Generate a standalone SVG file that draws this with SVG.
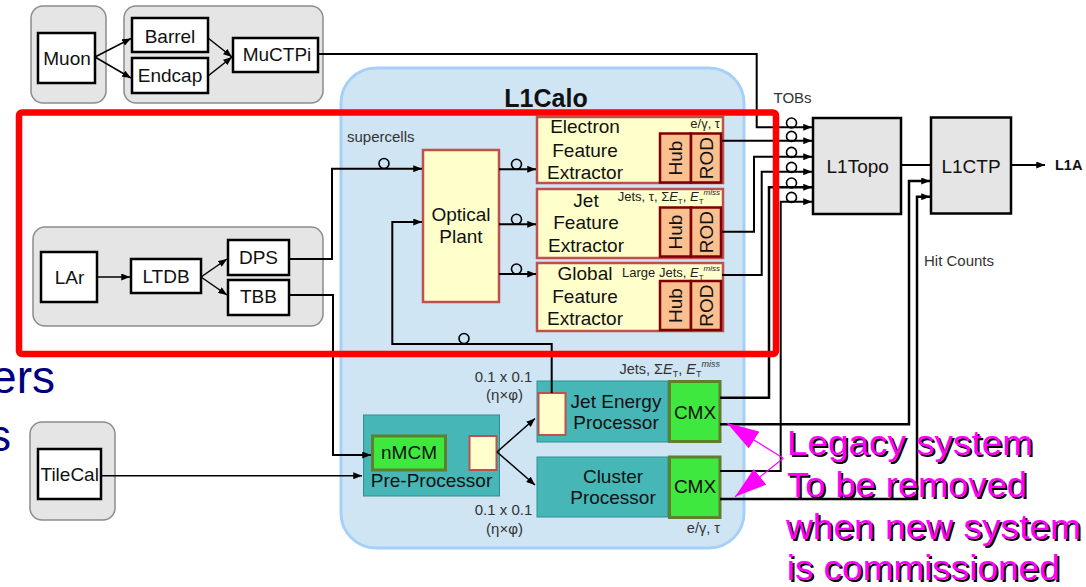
<svg xmlns="http://www.w3.org/2000/svg" width="1086" height="587" viewBox="0 0 1086 587">
<defs>
<marker id="ah" viewBox="0 0 10 8" refX="10" refY="4" markerWidth="9" markerHeight="7" markerUnits="userSpaceOnUse" orient="auto"><path d="M0,0 L10,4 L0,8 z" fill="#000"/></marker>
<marker id="mh" viewBox="0 0 32 20" refX="32" refY="10" markerWidth="32" markerHeight="20" markerUnits="userSpaceOnUse" orient="auto"><path d="M0,0 L32,10 L0,20 z" fill="#ff00ff"/></marker>
</defs>
<style>
text{font-family:"Liberation Sans",Arial,sans-serif;fill:#111}
.grp{fill:#e5e5e5;stroke:#8c8c8c;stroke-width:1.5}
.wb{fill:#fff;stroke:#000;stroke-width:2.5}
.gb{fill:#e5e5e5;stroke:#000;stroke-width:2.5}
.yb{fill:#ffffcc;stroke:#c0504d;stroke-width:2.5}
.hr{fill:#fac090;stroke:#7f0000;stroke-width:2.5}
.tl{fill:#46b6b6;stroke:#2e8f8f;stroke-width:1}
.gr{fill:#3fe83f;stroke:#5f7f2f;stroke-width:3}
.t19{font-size:19px}
.t15{font-size:15px;fill:#333}
.sm{font-size:13px;fill:#222}
.c{text-anchor:middle}
.ln{fill:none;stroke:#000;stroke-width:2}
.lt{fill:none;stroke:#000;stroke-width:1.5}
.lk{fill:none;stroke:#000;stroke-width:2.5}
.ci{fill:none;stroke:#000;stroke-width:1.6}
.lg{font-size:35px;fill:#ff00ff}
.lgs{font-size:35px;fill:#000}
</style>

<!-- background blue text fragments (clipped at the left edge, as in the source) -->
<text x="55" y="393" font-size="46" text-anchor="end" style="fill:#000080">ers</text>
<text x="11" y="451" font-size="44" text-anchor="end" style="fill:#000080">s</text>

<!-- L1Calo container -->
<g id="l1calo">
<rect x="341" y="68" width="403" height="480" rx="35" fill="#cfe5f4" stroke="#a6d0f7" stroke-width="3"/>
<text x="546" y="107" class="c" font-size="25" font-weight="bold">L1Calo</text>
<text x="347" y="141.7" class="t15">supercells</text>
</g>

<!-- Muon groups -->
<g id="muon-group">
<rect class="grp" x="31" y="6" width="75" height="97" rx="12"/>
<rect class="grp" x="124" y="6" width="199" height="97" rx="12"/>
</g>
<g id="muon"><rect class="wb" x="38" y="33" width="57" height="50"/><text class="t19 c" x="67" y="65">Muon</text></g>
<g id="barrel"><rect class="wb" x="132" y="18" width="76" height="34"/><text class="t19 c" x="170" y="43.3">Barrel</text></g>
<g id="endcap"><rect class="wb" x="132" y="58" width="76" height="35"/><text class="t19 c" x="170" y="81.7">Endcap</text></g>
<g id="muctpi"><rect class="wb" x="233" y="38" width="85" height="34"/><text class="t19 c" x="277" y="61">MuCTPi</text></g>

<!-- LAr group -->
<g id="lar-group"><rect class="grp" x="33" y="227" width="290" height="99" rx="12"/></g>
<g id="lar"><rect class="wb" x="41" y="252" width="56" height="50"/><text class="t19 c" x="69.5" y="284">LAr</text></g>
<g id="ltdb"><rect class="wb" x="131" y="259" width="70" height="34"/><text class="t19 c" x="166" y="282.7">LTDB</text></g>
<g id="dps"><rect class="wb" x="228" y="240" width="61" height="35"/><text class="t19 c" x="258.5" y="264">DPS</text></g>
<g id="tbb"><rect class="wb" x="228" y="280" width="61" height="35"/><text class="t19 c" x="258.5" y="303.3">TBB</text></g>

<!-- TileCal -->
<g id="tilecal-group"><rect class="grp" x="30" y="422" width="85" height="98" rx="12"/></g>
<g id="tilecal"><rect class="wb" x="38" y="449" width="63" height="50"/><text class="t19 c" x="69.7" y="480.7">TileCal</text></g>

<!-- Optical Plant -->
<g id="optical-plant"><rect class="yb" x="423" y="150" width="76" height="152"/><text class="t19 c" x="461" y="221">Optical</text><text class="t19 c" x="461" y="243.3">Plant</text></g>

<!-- Feature extractors -->
<g id="efex">
<rect class="yb" x="537" y="117" width="186" height="66"/>
<rect class="hr" x="660" y="133.5" width="31" height="49"/><rect class="hr" x="691" y="133.5" width="30" height="49"/>
<text class="t19 c" x="675.5" y="158" transform="rotate(-90 675.5 158)" dy="6.5">Hub</text>
<text class="t19 c" x="706" y="158" transform="rotate(-90 706 158)" dy="6.5">ROD</text>
<text class="t19 c" x="585" y="133.3">Electron</text><text class="t19 c" x="585" y="156.7">Feature</text><text class="t19 c" x="585" y="179">Extractor</text>
<text class="sm" x="720" y="128.3" text-anchor="end" font-size="14">e/γ, τ</text>
</g>
<g id="jfex">
<rect class="yb" x="537" y="189" width="186" height="69"/>
<rect class="hr" x="660" y="207.5" width="31" height="49"/><rect class="hr" x="691" y="207.5" width="30" height="49"/>
<text class="t19 c" x="675.5" y="232" transform="rotate(-90 675.5 232)" dy="6.5">Hub</text>
<text class="t19 c" x="706" y="232" transform="rotate(-90 706 232)" dy="6.5">ROD</text>
<text class="t19 c" x="586" y="206.7">Jet</text><text class="t19 c" x="586" y="229">Feature</text><text class="t19 c" x="586" y="251.7">Extractor</text>
<text class="sm" x="720" y="200.7" text-anchor="end">Jets, τ, Σ<tspan font-style="italic">E</tspan><tspan font-size="8" dy="3">T</tspan><tspan dy="-3">, </tspan><tspan font-style="italic">E</tspan><tspan font-size="8" dy="3">T</tspan><tspan font-size="8" font-style="italic" dy="-9">miss</tspan></text>
</g>
<g id="gfex">
<rect class="yb" x="537" y="263" width="186" height="68"/>
<rect class="hr" x="660" y="281" width="31" height="49"/><rect class="hr" x="691" y="281" width="30" height="49"/>
<text class="t19 c" x="675.5" y="305.5" transform="rotate(-90 675.5 305.5)" dy="6.5">Hub</text>
<text class="t19 c" x="706" y="305.5" transform="rotate(-90 706 305.5)" dy="6.5">ROD</text>
<text class="t19 c" x="585" y="280">Global</text><text class="t19 c" x="585" y="302.7">Feature</text><text class="t19 c" x="585" y="325">Extractor</text>
<text class="sm" x="720" y="276.7" text-anchor="end">Large Jets, <tspan font-style="italic">E</tspan><tspan font-size="8" dy="3">T</tspan><tspan font-size="8" font-style="italic" dy="-9">miss</tspan></text>
</g>

<!-- Legacy processors -->
<g id="jep">
<rect class="tl" x="537" y="381" width="131" height="61"/>
<rect class="yb" x="538.5" y="393" width="27" height="42" style="stroke-width:2"/>
<rect class="gr" x="669.5" y="381.5" width="50.5" height="60"/>
<text class="t19 c" x="616" y="408.3">Jet Energy</text><text class="t19 c" x="616" y="429.3">Processor</text>
<text class="t19 c" x="695" y="419.3">CMX</text>
</g>
<g id="cp">
<rect class="tl" x="537" y="457" width="131" height="60"/>
<rect class="gr" x="669.5" y="457" width="50.5" height="60.5"/>
<text class="t19 c" x="613" y="482.7">Cluster</text><text class="t19 c" x="613" y="504">Processor</text>
<text class="t19 c" x="695" y="493.3">CMX</text>
</g>
<g id="ppr">
<rect class="tl" x="363.5" y="415" width="136" height="81"/>
<rect class="gr" x="372.5" y="436" width="73" height="34"/>
<rect class="yb" x="469.5" y="436" width="27" height="34" style="stroke-width:2"/>
<text class="t19 c" x="409" y="459.3">nMCM</text>
<text class="t19 c" x="431.5" y="487.3">Pre-Processor</text>
</g>
<g id="legacy-labels">
<text class="t15 c" x="503.5" y="381.7">0.1 x 0.1</text><text class="t15 c" x="504.5" y="400">(η×φ)</text>
<text class="t15 c" x="503.5" y="515">0.1 x 0.1</text><text class="t15 c" x="504.5" y="534">(η×φ)</text>
<text x="720" y="374" text-anchor="end" font-size="14.5" style="fill:#333">Jets, Σ<tspan font-style="italic">E</tspan><tspan font-size="9" dy="3">T</tspan><tspan dy="-3">, </tspan><tspan font-style="italic">E</tspan><tspan font-size="9" dy="3">T</tspan><tspan font-size="9" font-style="italic" dy="-10">miss</tspan></text>
<text x="720" y="533.3" text-anchor="end" font-size="14.5" style="fill:#333">e/γ, τ</text>
</g>

<!-- L1Topo / L1CTP -->
<g id="l1topo"><rect class="gb" x="813" y="118" width="88" height="96"/><text class="t19 c" x="857.7" y="172.7">L1Topo</text></g>
<g id="l1ctp"><rect class="gb" x="931" y="117.5" width="80" height="96"/><text class="t19 c" x="971" y="172.7">L1CTP</text></g>
<g id="labels-right">
<text class="t15" x="773.5" y="103.3">TOBs</text>
<text class="t15" x="924" y="266">Hit Counts</text>
<text x="1055" y="169.5" font-size="14.5" font-weight="bold">L1A</text>
</g>

<!-- connectors -->
<g id="connectors">
<path class="lt" d="M95,57 L131,38.5" marker-end="url(#ah)"/>
<path class="lt" d="M95,57 L131,78" marker-end="url(#ah)"/>
<path class="lt" d="M208,38 L232,57" marker-end="url(#ah)"/>
<path class="lt" d="M208,76 L232,57" marker-end="url(#ah)"/>
<path class="lt" d="M97,277 L130,277" marker-end="url(#ah)"/>
<path class="lt" d="M201,277 L227,259" marker-end="url(#ah)"/>
<path class="lt" d="M201,277 L227,295" marker-end="url(#ah)"/>
<path class="ln" d="M289,259 H332 V168.7 H422" marker-end="url(#ah)"/>
<path class="ln" d="M289,295 H333 V455 H371" marker-end="url(#ah)"/>
<path class="lt" d="M101,475.7 H362" marker-end="url(#ah)"/>
<path class="ln" d="M551.7,393 V344 H392.3 V222 H422" marker-end="url(#ah)"/>
<path class="ln" d="M499,169.3 H536" marker-end="url(#ah)"/>
<path class="ln" d="M499,224.3 H536" marker-end="url(#ah)"/>
<path class="ln" d="M499,274 H536" marker-end="url(#ah)"/>
<path class="lt" d="M497,452 L535,418.5" marker-end="url(#ah)"/>
<path class="lt" d="M497,452 L535,485" marker-end="url(#ah)"/>
<!-- TOBs -->
<path class="ln" d="M318,54 H756.7 V127.3 H812" marker-end="url(#ah)"/>
<path class="ln" d="M722,140.7 H812" marker-end="url(#ah)"/>
<path class="ln" d="M722,231.7 H754 V156.7 H812" marker-end="url(#ah)"/>
<path class="ln" d="M722,275 H761.7 V171.7 H812" marker-end="url(#ah)"/>
<path class="lk" d="M720,397.7 H769 V187.3 H812" marker-end="url(#ah)"/>
<path class="ln" d="M720,471 H780.7 V201.7 H812" marker-end="url(#ah)"/>
<!-- Hit counts -->
<path class="lk" d="M720,424.3 H909 V181 H930" marker-end="url(#ah)"/>
<path class="lk" d="M720,499 H917 V196.7 H930" marker-end="url(#ah)"/>
<path class="ln" d="M901,165 H931"/>
<path class="ln" d="M1011,165 H1045" marker-end="url(#ah)"/>
<!-- circles -->
<circle class="ci" cx="384" cy="163.5" r="5"/>
<circle class="ci" cx="516.5" cy="164.3" r="5"/>
<circle class="ci" cx="516.5" cy="219.3" r="5"/>
<circle class="ci" cx="516.5" cy="269" r="5"/>
<circle class="ci" cx="464" cy="338.5" r="5"/>
<circle class="ci" cx="791.5" cy="123" r="5"/>
<circle class="ci" cx="791.5" cy="136.4" r="5"/>
<circle class="ci" cx="791.5" cy="152.4" r="5"/>
<circle class="ci" cx="791.5" cy="167.4" r="5"/>
<circle class="ci" cx="791.5" cy="183" r="5"/>
<circle class="ci" cx="791.5" cy="197.4" r="5"/>
</g>

<!-- red highlight -->
<g id="highlight"><rect x="19" y="112.5" width="757" height="241.5" rx="3" fill="none" stroke="#ff0000" stroke-width="6.5"/></g>

<!-- legacy annotation -->
<g id="legacy-note">
<path d="M783.3,458.3 L727,423" fill="none" stroke="#ff00ff" stroke-width="1.2" marker-end="url(#mh)"/>
<path d="M783.3,458.3 L735,496.7" fill="none" stroke="#ff00ff" stroke-width="1.2" marker-end="url(#mh)"/>
<text class="lgs" x="789" y="457" textLength="246" lengthAdjust="spacingAndGlyphs">Legacy system</text>
<text class="lgs" x="789" y="498.7" textLength="240" lengthAdjust="spacingAndGlyphs">To be removed</text>
<text class="lgs" x="788" y="541" textLength="295" lengthAdjust="spacingAndGlyphs">when new system</text>
<text class="lgs" x="788.7" y="582" textLength="273" lengthAdjust="spacingAndGlyphs">is commissioned</text>
<text class="lg" x="787" y="455" textLength="246" lengthAdjust="spacingAndGlyphs">Legacy system</text>
<text class="lg" x="787" y="496.7" textLength="240" lengthAdjust="spacingAndGlyphs">To be removed</text>
<text class="lg" x="786" y="539" textLength="295" lengthAdjust="spacingAndGlyphs">when new system</text>
<text class="lg" x="786.7" y="580" textLength="273" lengthAdjust="spacingAndGlyphs">is commissioned</text>
</g>
</svg>
